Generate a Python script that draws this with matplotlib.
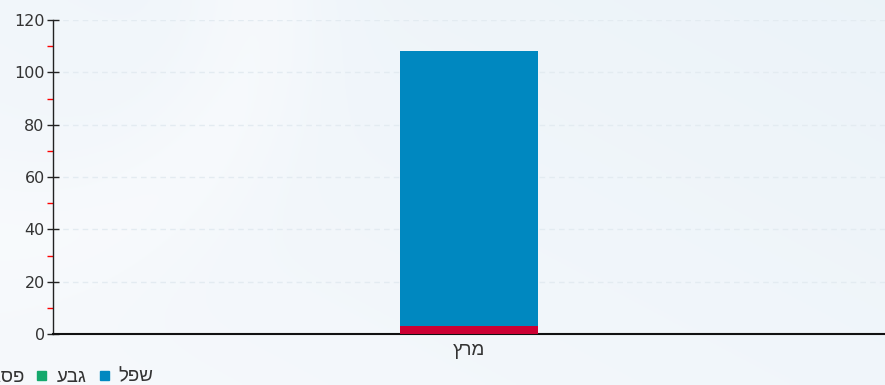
import matplotlib
matplotlib.use("Agg")
import matplotlib.pyplot as plt
import numpy as np
from matplotlib.patches import Rectangle

plt.rcParams['font.family'] = ['DejaVu Sans']
HEB = ['Liberation Sans', 'DejaVu Sans']

categories = ["מרץ"]
series_names = ["שפל", "גבע", "פסגה"]
series_colors = ["#0088c0", "#14a86c", "#cc0033"]
# stacking order bottom -> top: פסגה, גבע, שפל
val_shefel = [105]
val_geva = [0]
val_pisga = [3]
y_ticks = [0, 20, 40, 60, 80, 100, 120]


def vis(s):
    # matplotlib has no bidi: give Hebrew in visual order
    return s[::-1]


fig = plt.figure(figsize=(8.85, 3.85), dpi=100)

# background gradient
bg = fig.add_axes([0, 0, 1, 1], zorder=-10)
xx, yy = np.meshgrid(np.linspace(0, 1, 300), np.linspace(0, 1, 150))
c1 = np.array([0.965, 0.976, 0.988])
c2 = np.array([0.925, 0.953, 0.976])
t = np.clip(0.55 * xx + 0.45 * (1 - yy), 0, 1)[..., None]
img = c1 * (1 - t) + c2 * t
r = np.sqrt(((xx - 0.02) * 2.3) ** 2 + ((yy - 0.0) * 1.0) ** 2)
band = np.exp(-((r - 0.62) / 0.18) ** 2)[..., None] * 0.5
img = img * (1 - band) + np.array([0.985, 0.99, 0.995]) * band
bg.imshow(img, aspect='auto', extent=[0, 1, 0, 1], origin='upper')
bg.axis('off')

ax = fig.add_axes([53 / 885, 51 / 385, 1 - 53 / 885, (334 - 20) / 385])
ax.patch.set_alpha(0)

x = np.arange(len(categories))
w = 0.167
ax.bar(x, val_pisga, w, color=series_colors[2], zorder=3)
ax.bar(x, val_geva, w, bottom=val_pisga, color=series_colors[1], zorder=3)
bottom2 = [a + b for a, b in zip(val_pisga, val_geva)]
ax.bar(x, val_shefel, w, bottom=bottom2, color=series_colors[0], zorder=3)

ax.set_xlim(-0.5, 0.5)
ax.set_ylim(0, 120)
ax.set_yticks(y_ticks)
ax.set_yticklabels([str(v) for v in y_ticks], fontsize=11.5, color='#333333')
ax.set_yticks([v + 10 for v in y_ticks[:-1]], minor=True)
ax.tick_params(axis='y', which='major', length=8, width=1, direction='inout', color='#222222', pad=2)
ax.tick_params(axis='y', which='minor', length=4, width=1, direction='out', color='#ff0000')
ax.set_xticks(x)
ax.set_xticklabels([vis(c) for c in categories], fontsize=13.5, color='#333333', family=HEB)
ax.tick_params(axis='x', length=0, pad=6)

for v in y_ticks[1:]:
    ax.axhline(v, color='#e3ebf1', lw=1, ls=(0, (4, 3)), zorder=1)

for s in ['top', 'right']:
    ax.spines[s].set_visible(False)
ax.spines['left'].set_color('#222222')
ax.spines['left'].set_linewidth(1)
ax.spines['bottom'].set_color('#111111')
ax.spines['bottom'].set_linewidth(1.5)

# legend (right-to-left, clipped at the left edge)
leg_y = (385 - 377) / 385
items = [(153, 100, series_names[0], series_colors[0]),
         (86, 37, series_names[1], series_colors[1]),
         (25, -30, series_names[2], series_colors[2])]
for right_px, box_px, name, col in items:
    fig.text(right_px / 885, leg_y, vis(name), ha='right', va='center',
             fontsize=13.5, color='#333333', family=HEB)
    box_w = 9
    fig.add_artist(Rectangle((box_px / 885, (385 - 380) / 385),
                             box_w / 885, box_w / 385, color=col,
                             transform=fig.transFigure))

fig.savefig("out.png", dpi=100)
